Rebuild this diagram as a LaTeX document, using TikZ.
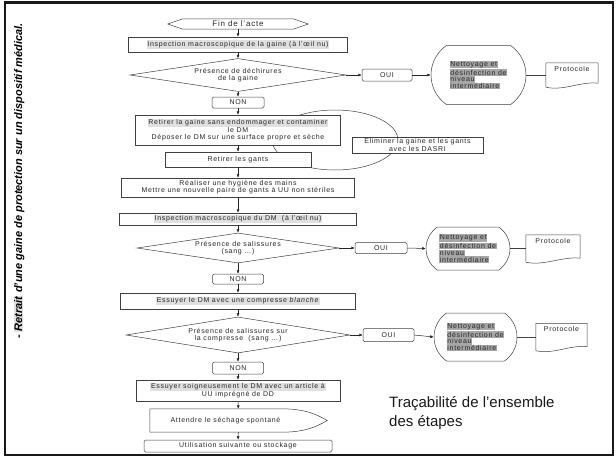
\documentclass[tikz,border=0pt]{standalone}
\usepackage{fontspec}
\setmainfont{Liberation Sans}
\newfontfamily\boitefont[LetterSpace=10]{Liberation Sans}
\usepackage{tikz}
\usetikzlibrary{shapes}
\usetikzlibrary{positioning}
\usetikzlibrary{arrows.meta}
\setlength{\fboxsep}{0.7pt}
\newcommand{\surl}[1]{\colorbox{black!12}{#1}}
\newcommand{\surf}[1]{\colorbox{black!35}{#1}}
\tikzset{
    boite/.style = {rectangle, draw=black!75, line width=0.5pt, fill=white, align=center, inner sep=1pt, font=\boitefont\fontsize{7}{7.2}\selectfont, text=black!85},
    boiter/.style = {boite, rounded corners=1.5pt},
    losange/.style = {diamond, aspect=6, draw=black!75, line width=0.5pt, fill=white, align=center, inner sep=0.5pt, font=\boitefont\fontsize{7}{7.5}\selectfont, text=black!85},
    nettoyage/.style = {rounded rectangle, rounded rectangle arc length=110, draw=black!75, line width=0.5pt, fill=white, align=left, inner sep=1pt, font=\boitefont\fontsize{7}{6.7}\selectfont, text=black!85},
    contour/.style = {align=center, inner sep=1pt, font=\boitefont\fontsize{7}{7.2}\selectfont, text=black!85},
    trait/.style = {-, line width=0.5pt, black!75},
    fleche/.style = {-{Latex[length=3.5pt,width=3pt]}, line width=0.5pt, black!85},
    cadre/.style = {line width=2.5pt, black!90}
}

\begin{document}
\begin{tikzpicture}[x=1pt, y=-1pt]
  \useasboundingbox (0,0) rectangle (616,458);
  \draw[cadre] (5,2.5) rectangle (613,455);
  \node[rotate=90, font=\fontsize{11}{13}\selectfont\bfseries\itshape] (titre) at (19,181)
    {- \colorbox{black!12}{Retrait} d’une gaine de protection sur un dispositif médical.};

  % ellipse behind the boxes
  \draw[trait] (335,140) ellipse [x radius=63, y radius=30];

  \node[contour, minimum width=110, minimum height=10, font=\boitefont\fontsize{8}{8}\selectfont] (fin) at (238,24) {Fin de l’acte};
  \node[boite, minimum width=219, minimum height=15] (insp) at (238,44.5) {\surl{Inspection macroscopique de la gaine (à l’œil nu)}};
  \node[losange, minimum width=216, minimum height=33] (dech) at (238,75) {Présence de déchirures\\de la gaine};
  \node[boiter, minimum width=50, minimum height=12] (oui1) at (387,75) {OUI};
  \node[nettoyage, minimum width=97, minimum height=59] (net1) at (478.5,75) {\surf{Nettoyage et}\\\surf{désinfection de}\\\surf{niveau}\\\surf{intermédiaire}};
  \node[contour, minimum width=52, minimum height=24] (proto1) at (572,75) {Protocole\\[4pt]};
  \node[boiter, minimum width=52, minimum height=11] (non1) at (238,102.5) {NON};
  \node[boite, minimum width=205, minimum height=30] (retg) at (238,130) {\surl{Retirer la gaine sans endommager et contaminer}\\le DM\\Déposer le DM sur une surface propre et sèche};
  \node[boite, minimum width=146, minimum height=15] (gants) at (238,159.5) {Retirer les gants};
  \node[boite, minimum width=131, minimum height=16] (elim) at (417.5,145) {Eliminer la gaine et les gants\\avec les DASRI};
  \node[boite, minimum width=233, minimum height=19] (hyg) at (238,187.5) {Réaliser une hygiène des mains\\Mettre une nouvelle paire de gants à UU non stériles};
  \node[boite, minimum width=237, minimum height=12] (inspdm) at (238,219) {\surl{Inspection macroscopique du DM\ \ (à l’œil nu)}};
  \node[losange, minimum width=202, minimum height=30] (sal1) at (238,248) {Présence de salissures\\(sang …)};
  \node[boiter, minimum width=52, minimum height=11] (oui2) at (381,248) {OUI};
  \node[nettoyage, minimum width=86, minimum height=43] (net2) at (468,248.5) {\surf{Nettoyage et}\\\surf{désinfection de}\\\surf{niveau}\\\surf{intermédiaire}};
  \node[contour, minimum width=54, minimum height=27] (proto2) at (553,248.5) {Protocole\\[8pt]};
  \node[boiter, minimum width=51, minimum height=10] (non2) at (238,279) {NON};
  \node[boite, minimum width=235, minimum height=16] (ess1) at (238,301) {\surl{Essuyer le DM avec une compresse \textit{blanche}}};
  \node[losange, minimum width=224, minimum height=36] (sal2) at (238,335) {Présence de salissures sur\\la compresse\ \ (sang …)};
  \node[boiter, minimum width=51, minimum height=13] (oui3) at (388.5,335) {OUI};
  \node[nettoyage, minimum width=85, minimum height=48] (net3) at (475.5,337) {\surf{Nettoyage et}\\\surf{désinfection de}\\\surf{niveau}\\\surf{intermédiaire}};
  \node[contour, minimum width=51, minimum height=27] (proto3) at (561.5,337) {Protocole\\[8pt]};
  \node[boiter, minimum width=51, minimum height=12] (non3) at (238,368) {NON};
  \node[boite, minimum width=204, minimum height=21] (ess2) at (238,390.5) {\surl{Essuyer soigneusement le DM avec un article à}\\UU imprégné de DD};
  \node[contour, minimum width=177, minimum height=23] (att) at (238.5,420.5) {Attendre le séchage spontané\hspace*{26pt}};
  \node[boiter, minimum width=188, minimum height=12] (util) at (238,446) {Utilisation suivante ou stockage};
  \node[anchor=north west, align=left, inner sep=0pt, font=\fontsize{15}{19.5}\selectfont, text=black!90] (traca) at (389,396) {Traçabilité de l’ensemble\\des étapes};

  % outlines of the drawn shapes
  \draw[trait] (fin.north west) -- (fin.north east) -- ([xshift=15pt]fin.east) -- (fin.south east) -- (fin.south west) -- ([xshift=-15pt]fin.west) -- cycle;
  \draw[trait] (att.north west) -- ([xshift=-45pt]att.north east)
    .. controls ([xshift=-17pt]att.north east) and ([xshift=-5pt,yshift=2.5pt]att.east) .. (att.east)
    .. controls ([xshift=-5pt,yshift=-2.5pt]att.east) and ([xshift=-17pt]att.south east) .. ([xshift=-45pt]att.south east)
    -- (att.south west) -- cycle;
  \foreach \p in {proto1,proto2,proto3}
    \draw[trait] (\p.south west) -- (\p.north west) -- (\p.north east) -- ([yshift=4pt]\p.south east)
      .. controls ([xshift=-18pt,yshift=6pt]\p.south east) and ([xshift=18pt,yshift=-4pt]\p.south west) .. (\p.south west);

  % main column
  \foreach \a/\b in {fin/insp, insp/dech, dech/non1, non1/retg, retg/gants, gants/hyg, hyg/inspdm, inspdm/sal1, sal1/non2, non2/ess1, ess1/sal2, sal2/non3, non3/ess2, ess2/att, att/util}
    \draw[fleche] (\a) -- (\b);
  % OUI branches
  \foreach \d/\o/\n/\p in {dech/oui1/net1/proto1, sal1/oui2/net2/proto2, sal2/oui3/net3/proto3} {
    \draw[fleche] (\d.east) -- (\o.west);
    \draw[fleche] (\o.east) -- (\n.west);
    \draw[trait] (\n.east) -- (\p.west);
  }
\end{tikzpicture}
\end{document}
